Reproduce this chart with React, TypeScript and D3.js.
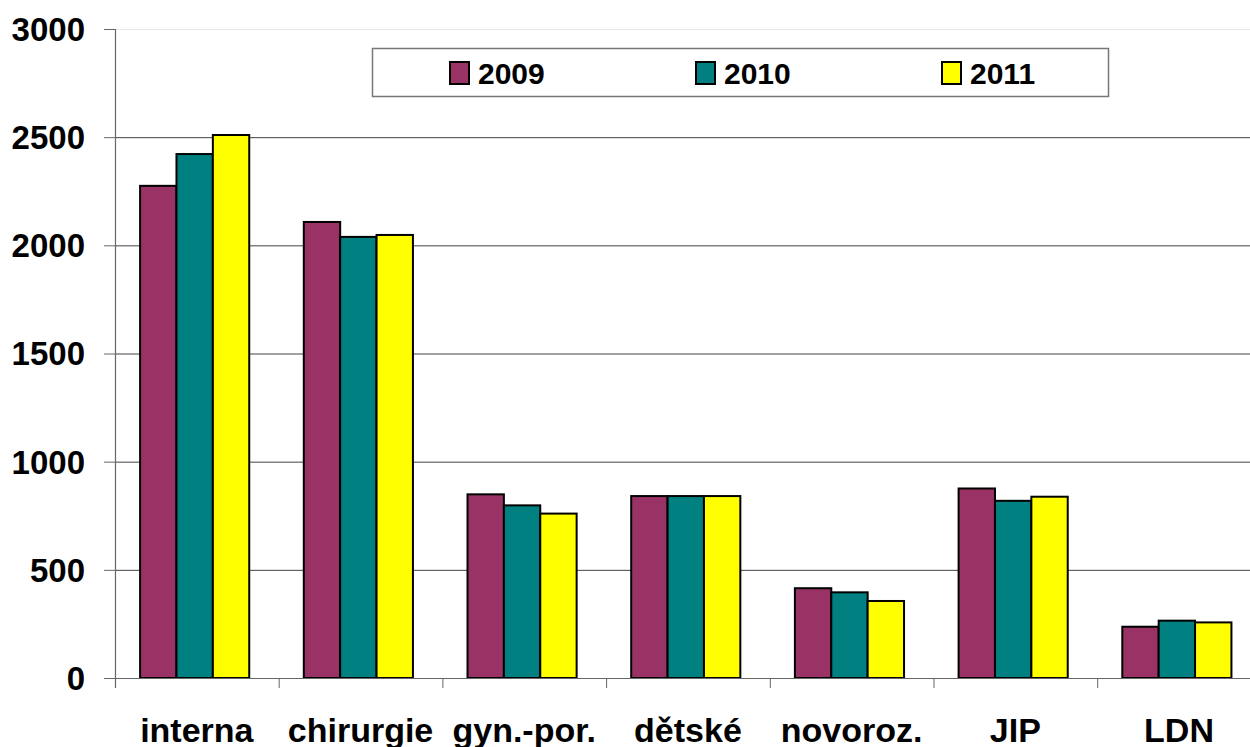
import { useRef, useEffect } from 'react';
import * as d3 from 'd3';

const categories = ['interna', 'chirurgie', 'gyn.-por.', 'dětské', 'novoroz.', 'JIP', 'LDN'];
const years = ['2009', '2010', '2011'];
const values2009 = [2275, 2108, 849, 841, 415, 876, 237];
const values2010 = [2422, 2039, 798, 841, 396, 819, 265];
const values2011 = [2510, 2048, 760, 841, 356, 838, 257];
const yTicks = [0, 500, 1000, 1500, 2000, 2500, 3000];
const yearColors = ['#993366', '#008080', '#FFFF00'];

const W = 1250;
const H = 747;
const FONT = '"Liberation Sans", Arial, sans-serif';

function drawChart(svgEl: SVGSVGElement) {
  const series = [values2009, values2010, values2011];
  const left = 115;
  const top = 29;
  const bottom = 678;

  const svg = d3.select(svgEl);
  svg.selectAll('*').remove();

  const x = d3.scaleBand<string>().domain(categories).range([left, left + 7 * 163.7]);
  const xs = d3.scaleBand<string>()
    .domain(years)
    .range([0, x.bandwidth()])
    .paddingOuter(0.75)
    .align(0.46);
  const y = d3.scaleLinear().domain([0, 3000]).range([bottom, top]);

  // gridlines
  svg.append('g')
    .selectAll('line')
    .data(yTicks.filter((t) => t > 0))
    .enter()
    .append('line')
    .attr('x1', left)
    .attr('x2', W)
    .attr('y1', (d) => y(d) + 0.5)
    .attr('y2', (d) => y(d) + 0.5)
    .attr('stroke', (d) => (d === 3000 ? '#e8e8e8' : '#444'))
    .attr('stroke-width', 1);

  // y axis
  const yAxis = svg.append('g');
  yAxis.append('line')
    .attr('x1', left + 0.5).attr('x2', left + 0.5)
    .attr('y1', top).attr('y2', bottom + 10)
    .attr('stroke', '#666').attr('stroke-width', 1.2);
  yAxis.selectAll('.tick')
    .data(yTicks)
    .enter()
    .append('line')
    .attr('x1', left - 11).attr('x2', left)
    .attr('y1', (d) => y(d) + 0.5).attr('y2', (d) => y(d) + 0.5)
    .attr('stroke', '#666');
  yAxis.selectAll('text')
    .data(yTicks)
    .enter()
    .append('text')
    .attr('x', 85)
    .attr('y', (d) => y(d))
    .attr('dy', '0.36em')
    .attr('text-anchor', 'end')
    .style('font-family', FONT)
    .style('font-weight', 'bold')
    .style('font-size', '33px')
    .text((d) => String(d));

  // bars
  const groups = svg.append('g')
    .selectAll('g')
    .data(categories)
    .enter()
    .append('g')
    .attr('transform', (d) => `translate(${x(d)},0)`);

  groups.selectAll('rect')
    .data((_, i) => years.map((yr, k) => ({ yr, k, v: series[k][i] })))
    .enter()
    .append('rect')
    .attr('x', (d) => xs(d.yr)!)
    .attr('y', (d) => y(d.v))
    .attr('width', xs.bandwidth())
    .attr('height', (d) => bottom - y(d.v))
    .attr('fill', (d) => yearColors[d.k])
    .attr('stroke', '#000')
    .attr('stroke-width', 2);

  // x axis
  const xAxis = svg.append('g');
  xAxis.append('line')
    .attr('x1', left - 11).attr('x2', W)
    .attr('y1', bottom + 0.5).attr('y2', bottom + 0.5)
    .attr('stroke', '#666').attr('stroke-width', 1.2);
  xAxis.selectAll('.tick')
    .data(categories)
    .enter()
    .append('line')
    .attr('x1', (d) => x(d)! + 0.5).attr('x2', (d) => x(d)! + 0.5)
    .attr('y1', bottom).attr('y2', bottom + 10)
    .attr('stroke', '#666');
  xAxis.selectAll('text')
    .data(categories)
    .enter()
    .append('text')
    .attr('x', (d) => x(d)! + x.bandwidth() / 2)
    .attr('y', 742)
    .attr('text-anchor', 'middle')
    .style('font-family', FONT)
    .style('font-weight', 'bold')
    .style('font-size', '34px')
    .text((d) => d);

  // legend
  const legend = svg.append('g');
  legend.append('rect')
    .attr('x', 372.5).attr('y', 48.5)
    .attr('width', 736).attr('height', 48)
    .attr('fill', '#fff')
    .attr('stroke', '#777')
    .attr('stroke-width', 1.5);
  const items = legend.selectAll('.item')
    .data(years)
    .enter()
    .append('g')
    .attr('transform', (_, i) => `translate(${450 + i * 246},0)`);
  items.append('rect')
    .attr('x', 0).attr('y', 62)
    .attr('width', 19).attr('height', 22)
    .attr('fill', (_, i) => yearColors[i])
    .attr('stroke', '#000')
    .attr('stroke-width', 2);
  items.append('text')
    .attr('x', 28).attr('y', 84)
    .style('font-family', FONT)
    .style('font-weight', 'bold')
    .style('font-size', '30px')
    .text((d) => d);
}

export default function App() {
  const ref = useRef<SVGSVGElement>(null);

  useEffect(() => {
    document.body.style.margin = '0';
    if (ref.current) drawChart(ref.current);
  }, []);

  return (
    <svg
      ref={ref}
      width={W}
      height={H}
      style={{ display: 'block', background: '#fff' }}
    />
  );
}
